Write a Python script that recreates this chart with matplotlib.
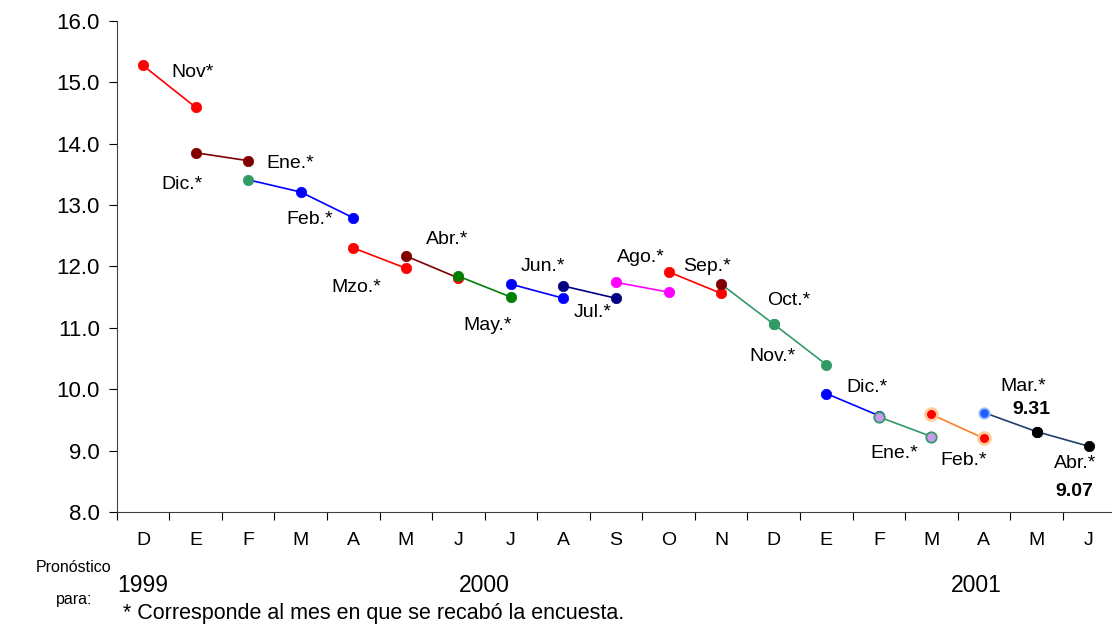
import matplotlib
matplotlib.use("Agg")
import matplotlib.pyplot as plt
import matplotlib.transforms as mtransforms

plt.rcParams['font.family'] = ['Liberation Sans', 'DejaVu Sans']

# months of the forecast horizon (Dec 1999 .. Jun 2001)
months = ['D', 'E', 'F', 'M', 'A', 'M', 'J', 'J', 'A', 'S', 'O', 'N',
          'D', 'E', 'F', 'M', 'A', 'M', 'J']
years = ['1999', '2000', '2001']

# one entry per survey: start month index, two (or three) forecasts
seg_start = [0, 1, 2, 4, 5, 6, 7, 8, 9, 10, 11, 12, 13, 14, 15, 16, 17]
seg_values = [
    [15.27, 14.59],
    [13.85, 13.72],
    [13.41, 13.21, 12.79],
    [12.30, 11.97],
    [12.17, 11.81],
    [11.84, 11.50],
    [11.71, 11.48],
    [11.68, 11.48],
    [11.74, 11.58],
    [11.91, 11.56],
    [11.71, 11.06],
    [11.06, 10.40],
    [9.93, 9.57],
    [9.55, 9.23],
    [9.59, 9.20],
    [9.62, 9.31],
    [9.31, 9.07],
]
line_colors = ['#ff0000', '#800000', '#0000ff', '#ff0000', '#800000', '#008000',
               '#0000ff', '#000080', '#ff00ff', '#ff0000', '#339966', '#339966',
               '#0000ff', '#339966', '#ff7f27', '#1f3f6f', '#1f3f6f']
marker_faces = [
    ['#ff0000', '#ff0000'],
    ['#800000', '#800000'],
    ['#339966', '#0000ff', '#0000ff'],
    ['#ff0000', '#ff0000'],
    ['#800000', '#ff0000'],
    ['#008000', '#008000'],
    ['#0000ff', '#0000ff'],
    ['#000080', '#000080'],
    ['#ff00ff', '#ff00ff'],
    ['#ff0000', '#ff0000'],
    ['#800000', '#339966'],
    ['#339966', '#339966'],
    ['#0000ff', '#0000ff'],
    ['#cc99ee', '#cc99ee'],
    ['#ff0000', '#ff0000'],
    ['#1f5fff', '#000000'],
    ['#000000', '#000000'],
]
marker_edges = [None] * 13 + [['#339966', '#339966'], ['#ffcc99', '#ffcc99'],
                              ['#99bbff', '#000000'], None]

survey_labels = ['Nov*', 'Dic.*', 'Ene.*', 'Feb.*', 'Mzo.*', 'Abr.*', 'May.*',
                 'Jun.*', 'Jul.*', 'Ago.*', 'Sep.*', 'Oct.*', 'Nov.*', 'Dic.*',
                 'Ene.*', 'Feb.*', 'Mar.*', '9.31', 'Abr.*', '9.07']
label_pos = [(0.94, 15.16), (0.74, 13.34), (2.81, 13.67), (3.17, 12.76),
             (4.06, 11.66), (5.78, 12.43), (6.55, 11.04), (7.61, 11.99),
             (8.55, 11.25), (9.48, 12.15), (10.73, 12.0), (12.29, 11.45),
             (11.98, 10.53), (13.78, 10.03), (14.29, 8.95), (15.61, 8.84),
             (16.74, 10.05), (16.91, 9.67), (17.73, 8.79), (17.71, 8.33)]

fig = plt.figure(figsize=(11.12, 6.26), dpi=100)
ax = fig.add_axes([0.105, 0.182, 0.898, 0.785])

for k, vals in enumerate(seg_values):
    xs = list(range(seg_start[k], seg_start[k] + len(vals)))
    ax.plot(xs, vals, color=line_colors[k], lw=1.2, zorder=2)
    for i, (x, v) in enumerate(zip(xs, vals)):
        face = marker_faces[k][i]
        if marker_edges[k] and marker_edges[k][i] != face:
            halo = k == 14  # Feb survey has a wide light halo
            ax.plot(x, v, 'o', ms=8.5 if halo else 7.5, mfc=face,
                    mec=marker_edges[k][i], mew=2.0 if halo else 1.3, zorder=3)
        else:
            ax.plot(x, v, 'o', ms=7.5, mfc=face, mec=face, mew=0.5, zorder=3)

for txt, (x, y) in zip(survey_labels, label_pos):
    bold = txt[0].isdigit()
    ax.text(x, y, txt, fontsize=14, ha='center', va='center',
            fontweight='bold' if bold else 'normal')

ax.set_xlim(-0.5, len(months) - 0.5)
ax.set_ylim(8, 16)
ax.set_yticks(range(8, 17))
ax.set_yticklabels([f'{v:.1f}' for v in range(8, 17)], fontsize=16)
ax.tick_params(axis='y', direction='out', length=6, width=0.8, pad=6)

ax.set_xticks([i - 0.5 for i in range(len(months) + 1)])
ax.set_xticklabels([])
ax.set_xticks(range(len(months)), minor=True)
ax.set_xticklabels(months, minor=True, fontsize=14)
ax.tick_params(axis='x', which='major', direction='out', length=6, width=0.8)
ax.tick_params(axis='x', which='minor', length=0, pad=14)

for s in ['top', 'right']:
    ax.spines[s].set_visible(False)
for s in ['left', 'bottom']:
    ax.spines[s].set_linewidth(0.8)
    ax.spines[s].set_color('#404040')

trans = mtransforms.blended_transform_factory(ax.transData, fig.transFigure)
for txt, x in zip(years, [0, 6.5, 15.86]):
    ax.text(x, 0.064, txt, transform=trans, fontsize=16.5, ha='center', va='center')

fig.text(0.066, 0.094, 'Pronóstico', fontsize=11.5, ha='center', va='center')
fig.text(0.067, 0.043, 'para:', fontsize=11.5, ha='center', va='center')
fig.text(0.111, 0.003, '* Corresponde al mes en que se recabó la encuesta.',
         fontsize=15.5, ha='left', va='bottom')

fig.savefig('out.png', dpi=100)
